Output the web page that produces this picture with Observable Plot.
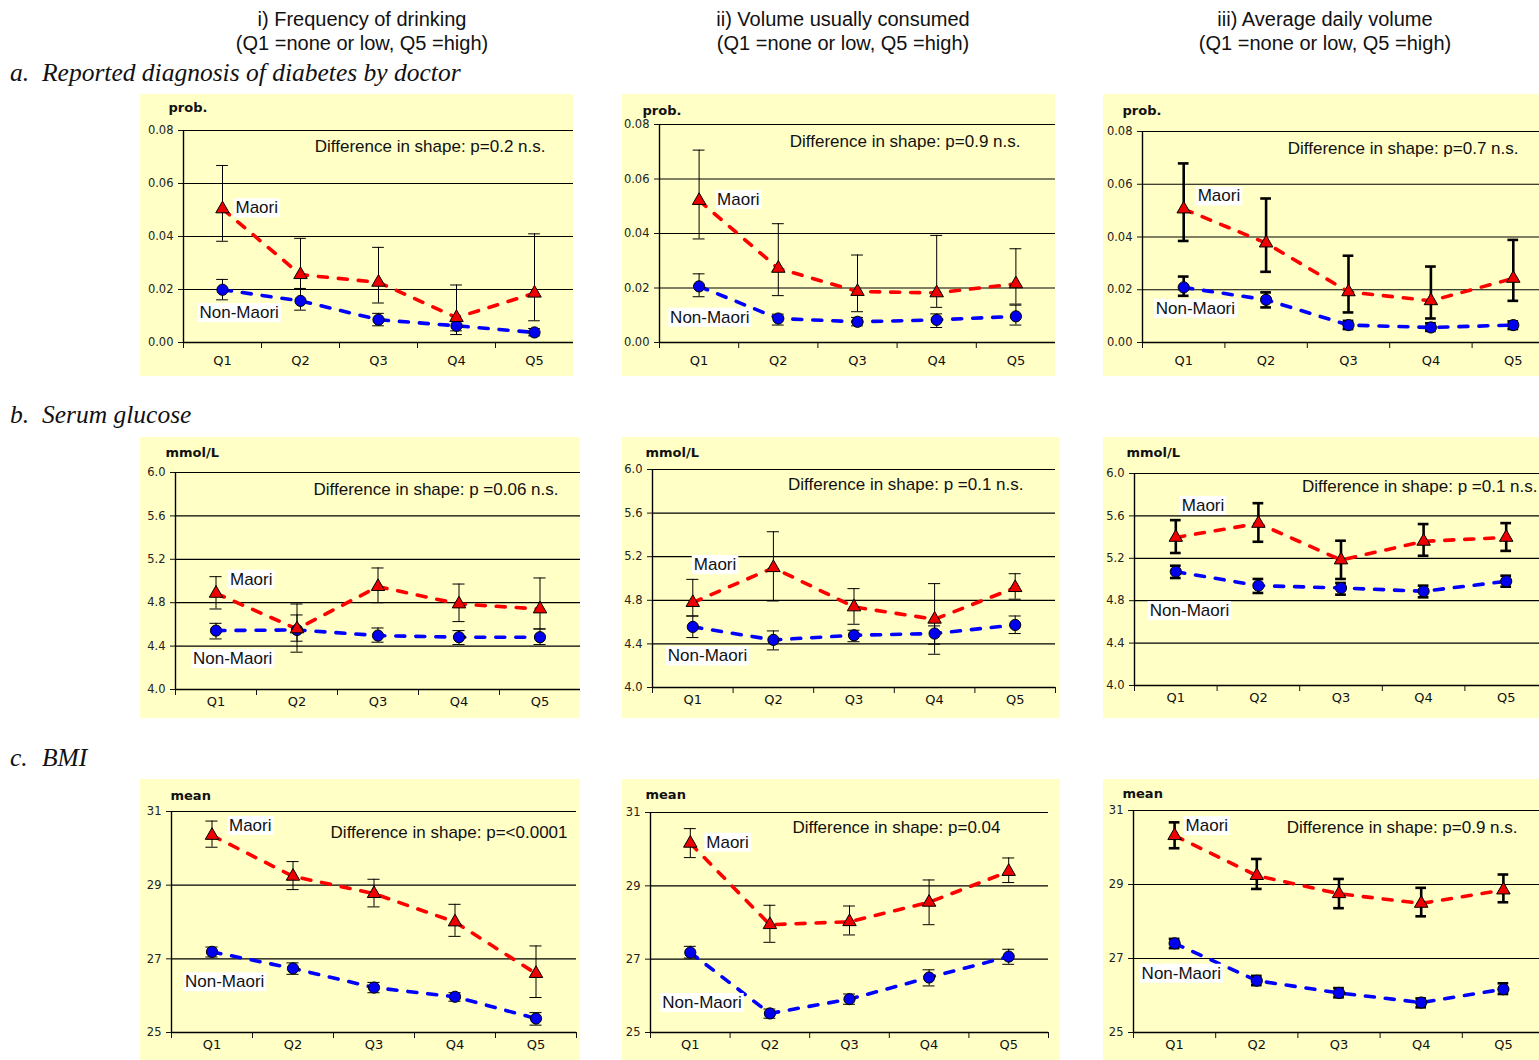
<!DOCTYPE html>
<html><head><meta charset="utf-8">
<script src="https://cdn.jsdelivr.net/npm/d3@7"></script>
<script src="https://cdn.jsdelivr.net/npm/@observablehq/plot@0.6"></script>
<style>
html,body{margin:0;padding:0;background:#fff;overflow:hidden;}
#page{position:relative;width:1539px;height:1060px;overflow:hidden;font-family:"Liberation Sans",Arial,sans-serif;}
.hdr{position:absolute;width:420px;text-align:center;font-size:20px;line-height:20px;color:#111;white-space:nowrap;}
.row{position:absolute;font-family:"Liberation Serif","Times New Roman",serif;font-style:italic;font-size:25.5px;line-height:25px;color:#111;white-space:nowrap;}
.panel{position:absolute;overflow:hidden;background:#ffffc6;}
.panel svg{display:block;max-width:none !important;}
</style></head><body><div id="page"></div>
<script>
// ---------- data ----------
const categories = ["Q1", "Q2", "Q3", "Q4", "Q5"];
const columnTitles = ["i)  Frequency of drinking", "ii)  Volume usually consumed", "iii)  Average daily volume"];
const columnSubtitle = "(Q1 =none or low, Q5 =high)";
const rowLetters = ["a.", "b.", "c."];
const rowTitles = ["Reported diagnosis of diabetes by doctor", "Serum glucose", "BMI"];
const unitLabels = ["prob.", "mmol/L", "mean"];
const groupNames = ["Maori", "Non-Maori"];

const probTicks = [0, 0.02, 0.04, 0.06, 0.08];
const glucoseTicks = [4.0, 4.4, 4.8, 5.2, 5.6, 6.0];
const bmiTicks = [25, 27, 29, 31];

const pValues = [
  "Difference in shape: p=0.2 n.s.", "Difference in shape: p=0.9 n.s.", "Difference in shape: p=0.7 n.s.",
  "Difference in shape: p =0.06 n.s.", "Difference in shape: p =0.1 n.s.", "Difference in shape: p =0.1 n.s.",
  "Difference in shape: p=<0.0001", "Difference in shape: p=0.04", "Difference in shape: p=0.9 n.s."
];

// a) diabetes, i) frequency
const diabFreqMaori     = [0.0504, 0.0256, 0.0227, 0.0094, 0.0186];
const diabFreqMaoriLo   = [0.0382, 0.0204, 0.0149, 0.0030, 0.0082];
const diabFreqMaoriHi   = [0.0668, 0.0393, 0.0359, 0.0217, 0.0410];
const diabFreqNon       = [0.0199, 0.0157, 0.0086, 0.0063, 0.0038];
const diabFreqNonLo     = [0.0161, 0.0122, 0.0063, 0.0044, 0.0025];
const diabFreqNonHi     = [0.0238, 0.0202, 0.0110, 0.0082, 0.0053];
// a) diabetes, ii) volume
const diabVolMaori      = [0.0521, 0.0272, 0.0187, 0.0182, 0.0215];
const diabVolMaoriLo    = [0.0380, 0.0172, 0.0113, 0.0129, 0.0141];
const diabVolMaoriHi    = [0.0706, 0.0436, 0.0321, 0.0393, 0.0344];
const diabVolNon        = [0.0206, 0.0088, 0.0076, 0.0083, 0.0096];
const diabVolNonLo      = [0.0168, 0.0064, 0.0061, 0.0055, 0.0064];
const diabVolNonHi      = [0.0252, 0.0104, 0.0092, 0.0105, 0.0137];
// a) diabetes, iii) average daily volume
const diabAvgMaori      = [0.0506, 0.0377, 0.0192, 0.0158, 0.0243];
const diabAvgMaoriLo    = [0.0385, 0.0268, 0.0114, 0.0091, 0.0158];
const diabAvgMaoriHi    = [0.0679, 0.0546, 0.0329, 0.0288, 0.0389];
const diabAvgNon        = [0.0209, 0.0162, 0.0066, 0.0057, 0.0066];
const diabAvgNonLo      = [0.0177, 0.0133, 0.0051, 0.0044, 0.0051];
const diabAvgNonHi      = [0.0250, 0.0190, 0.0082, 0.0073, 0.0080];

// b) glucose
const glucFreqMaori     = [4.886, 4.558, 4.948, 4.788, 4.742];
const glucFreqMaoriLo   = [4.742, 4.344, 4.800, 4.626, 4.558];
const glucFreqMaoriHi   = [5.040, 4.788, 5.120, 4.972, 5.028];
const glucFreqNon       = [4.543, 4.549, 4.497, 4.482, 4.482];
const glucFreqNonLo     = [4.466, 4.445, 4.436, 4.414, 4.414];
const glucFreqNonHi     = [4.610, 4.687, 4.567, 4.543, 4.558];

const glucVolMaori      = [4.779, 5.099, 4.739, 4.626, 4.916];
const glucVolMaoriLo    = [4.656, 4.794, 4.580, 4.397, 4.810];
const glucVolMaoriHi    = [4.992, 5.429, 4.907, 4.953, 5.044];
const glucVolNon        = [4.556, 4.437, 4.479, 4.495, 4.574];
const glucVolNonLo      = [4.458, 4.345, 4.420, 4.305, 4.495];
const glucVolNonHi      = [4.656, 4.519, 4.525, 4.565, 4.656];

const glucAvgMaori      = [5.397, 5.529, 5.184, 5.360, 5.397];
const glucAvgMaoriLo    = [5.250, 5.356, 5.005, 5.224, 5.270];
const glucAvgMaoriHi    = [5.560, 5.720, 5.366, 5.523, 5.532];
const glucAvgNon        = [5.074, 4.942, 4.920, 4.889, 4.983];
const glucAvgNonLo      = [5.014, 4.873, 4.857, 4.832, 4.932];
const glucAvgNonHi      = [5.130, 5.005, 4.967, 4.942, 5.036];

// c) BMI
const bmiFreqMaori      = [30.35, 29.24, 28.77, 28.00, 26.60];
const bmiFreqMaoriLo    = [30.03, 28.88, 28.41, 27.61, 25.95];
const bmiFreqMaoriHi    = [30.74, 29.64, 29.16, 28.48, 27.35];
const bmiFreqNon        = [27.19, 26.74, 26.22, 25.97, 25.38];
const bmiFreqNonLo      = [27.05, 26.58, 26.08, 25.85, 25.20];
const bmiFreqNonHi      = [27.32, 26.89, 26.36, 26.08, 25.54];

const bmiVolMaori       = [30.16, 27.94, 28.02, 28.55, 29.39];
const bmiVolMaoriLo     = [29.77, 27.46, 27.66, 27.94, 29.09];
const bmiVolMaoriHi     = [30.56, 28.47, 28.45, 29.16, 29.76];
const bmiVolNon         = [27.18, 25.52, 25.91, 26.50, 27.07];
const bmiVolNonLo       = [27.03, 25.39, 25.77, 26.27, 26.86];
const bmiVolNonHi       = [27.35, 25.64, 26.05, 26.71, 27.27];

const bmiAvgMaori       = [30.32, 29.24, 28.75, 28.49, 28.85];
const bmiAvgMaoriLo     = [29.98, 28.88, 28.36, 28.14, 28.52];
const bmiAvgMaoriHi     = [30.68, 29.69, 29.15, 28.91, 29.27];
const bmiAvgNon         = [27.41, 26.40, 26.07, 25.81, 26.17];
const bmiAvgNonLo       = [27.28, 26.28, 25.95, 25.68, 26.04];
const bmiAvgNonHi       = [27.53, 26.53, 26.20, 25.92, 26.33];

// ---------- layout (styles only) ----------
const rowAxis = [
  {ticks: probTicks, fmt: d3.format(".2f"), xPad: 13},
  {ticks: glucoseTicks, fmt: d3.format(".1f"), xPad: 7},
  {ticks: bmiTicks, fmt: d3.format("d"), xPad: 7}
];
const series = [
  [[diabFreqMaori, diabFreqMaoriLo, diabFreqMaoriHi, diabFreqNon, diabFreqNonLo, diabFreqNonHi],
   [diabVolMaori, diabVolMaoriLo, diabVolMaoriHi, diabVolNon, diabVolNonLo, diabVolNonHi],
   [diabAvgMaori, diabAvgMaoriLo, diabAvgMaoriHi, diabAvgNon, diabAvgNonLo, diabAvgNonHi]],
  [[glucFreqMaori, glucFreqMaoriLo, glucFreqMaoriHi, glucFreqNon, glucFreqNonLo, glucFreqNonHi],
   [glucVolMaori, glucVolMaoriLo, glucVolMaoriHi, glucVolNon, glucVolNonLo, glucVolNonHi],
   [glucAvgMaori, glucAvgMaoriLo, glucAvgMaoriHi, glucAvgNon, glucAvgNonLo, glucAvgNonHi]],
  [[bmiFreqMaori, bmiFreqMaoriLo, bmiFreqMaoriHi, bmiFreqNon, bmiFreqNonLo, bmiFreqNonHi],
   [bmiVolMaori, bmiVolMaoriLo, bmiVolMaoriHi, bmiVolNon, bmiVolNonLo, bmiVolNonHi],
   [bmiAvgMaori, bmiAvgMaoriLo, bmiAvgMaoriHi, bmiAvgNon, bmiAvgNonLo, bmiAvgNonHi]]
];
const layout = [
  [{l:140,t:94,w:433,h:282,sw:433,mL:43,mR:0,mT:36,mB:34, u:[-15,-23], p:[-28,16], lm:[13,-1], ln:[-23,23]},
   {l:622,t:94,w:433,h:282,sw:433,mL:37,mR:0,mT:30,mB:34, u:[-17,-14], p:[-35,17], lm:[18,-1], ln:[-29,31]},
   {l:1103,t:94,w:436,h:282,sw:451,mL:39,mR:0,mT:37,mB:34, u:[-20,-21], p:[-36,17], lm:[14,-13], ln:[-28,21]}],
  [{l:140,t:437,w:440,h:281,sw:440,mL:35,mR:0,mT:35,mB:29, u:[-10,-20], p:[-22,17], lm:[14,-14], ln:[-23,28]},
   {l:622,t:437,w:438,h:281,sw:438,mL:30,mR:5,mT:32,mB:31, u:[-7,-17], p:[-32,15], lm:[1,-38], ln:[-25,29]},
   {l:1103,t:437,w:436,h:281,sw:444,mL:31,mR:0,mT:36,mB:33, u:[-8,-21], p:[-10,13], lm:[6,-32], ln:[-26,39]}],
  [{l:140,t:779,w:440,h:281,sw:440,mL:31,mR:4,mT:32,mB:28, u:[-1,-16], p:[-9,21], lm:[17,-10], ln:[-27,30]},
   {l:622,t:779,w:438,h:281,sw:438,mL:28,mR:12,mT:33,mB:28, u:[-5,-18], p:[-48,15], lm:[16,-1], ln:[-28,50]},
   {l:1103,t:779,w:436,h:281,sw:441,mL:30,mR:0,mT:31,mB:28, u:[-11,-17], p:[-27,17], lm:[11,-10], ln:[-33,30]}]
];

const page = document.getElementById("page");
const sans = "Liberation Sans, Arial, sans-serif";
const dejavu = "DejaVu Sans, Verdana, sans-serif";

const colCenters = [362, 843, 1325];
columnTitles.forEach((t, i) => {
  const a = document.createElement("div");
  a.className = "hdr"; a.style.left = (colCenters[i] - 210) + "px"; a.style.top = "9px"; a.textContent = t;
  page.appendChild(a);
  const b = document.createElement("div");
  b.className = "hdr"; b.style.left = (colCenters[i] - 210) + "px"; b.style.top = "33px"; b.textContent = columnSubtitle;
  page.appendChild(b);
});
const rowTops = [60, 402, 745];
rowTitles.forEach((t, i) => {
  const a = document.createElement("div");
  a.className = "row"; a.style.left = "10px"; a.style.top = rowTops[i] + "px"; a.textContent = rowLetters[i];
  page.appendChild(a);
  const b = document.createElement("div");
  b.className = "row"; b.style.left = "42px"; b.style.top = rowTops[i] + "px"; b.textContent = t;
  page.appendChild(b);
});

function makePanel(r, c) {
  const L = layout[r][c];
  const ax = rowAxis[r];
  const [m, mLo, mHi, n, nLo, nHi] = series[r][c];
  const mRows = categories.map((q, i) => ({x: i + 1, y: m[i], lo: mLo[i], hi: mHi[i]}));
  const nRows = categories.map((q, i) => ({x: i + 1, y: n[i], lo: nLo[i], hi: nHi[i]}));
  const xCenters = categories.map((q, i) => i + 1);
  const xEdges = categories.map((q, i) => i + 0.5).concat([categories.length + 0.5]);
  const yMin = ax.ticks[0], yMax = ax.ticks[ax.ticks.length - 1];
  const ew = c === 2 ? 2.6 : 1;
  const cw = c === 2 ? 0.065 : 0.075;
  const bars = rows => [
    Plot.ruleX(rows, {x: "x", y1: "lo", y2: "hi", stroke: "black", strokeWidth: ew}),
    Plot.ruleY(rows, {y: "lo", x1: d => d.x - cw, x2: d => d.x + cw, stroke: "black", strokeWidth: ew}),
    Plot.ruleY(rows, {y: "hi", x1: d => d.x - cw, x2: d => d.x + cw, stroke: "black", strokeWidth: ew})
  ];
  return Plot.plot({
    width: L.sw, height: L.h,
    marginLeft: L.mL, marginRight: L.mR, marginTop: L.mT, marginBottom: L.mB,
    x: {type: "linear", domain: [0.5, categories.length + 0.5]},
    y: {domain: [yMin, yMax]},
    style: {background: "transparent", color: "#111", fontFamily: sans, overflow: "visible", maxWidth: "none"},
    marks: [
      Plot.gridY({ticks: ax.ticks, stroke: "black", strokeOpacity: 1, strokeWidth: 1.2}),
      Plot.ruleY([yMin], {stroke: "black", strokeWidth: 1.4}),
      Plot.ruleX([0.5], {stroke: "black", strokeWidth: 1.4}),
      Plot.axisY({ticks: ax.ticks, tickFormat: ax.fmt, tickSize: 5, tickPadding: 5, fontSize: 11.5, fontFamily: dejavu, label: null, fill: "#222"}),
      Plot.axisX({ticks: xCenters, tickFormat: d => categories[d - 1], tickSize: 0, tickPadding: ax.xPad, fontSize: 13, fontFamily: dejavu, label: null}),
      Plot.axisX({ticks: xEdges, tickFormat: () => "", tickSize: 6, label: null}),
      Plot.line(mRows, {x: "x", y: "y", stroke: "#ff0000", strokeWidth: 3.6, strokeDasharray: "9,11"}),
      Plot.line(nRows, {x: "x", y: "y", stroke: "#0000ff", strokeWidth: 3.6, strokeDasharray: "9,11"}),
      ...bars(mRows),
      ...bars(nRows),
      Plot.dot(nRows, {x: "x", y: "y", symbol: "circle", r: 5.6, fill: "#0000ee", stroke: "black", strokeWidth: 1}),
      Plot.dot(mRows, {x: "x", y: "y", symbol: "triangle", r: 5, fill: "#ee0000", stroke: "black", strokeWidth: 1}),
      Plot.text([unitLabels[r]], {text: d => d, frameAnchor: "top-left", textAnchor: "start", lineAnchor: "middle", dx: L.u[0], dy: L.u[1], fontSize: 13, fontWeight: "bold", fontFamily: dejavu, fill: "#111"}),
      Plot.text([pValues[r * 3 + c]], {text: d => d, frameAnchor: "top-right", textAnchor: "end", lineAnchor: "middle", dx: L.p[0], dy: L.p[1], fontSize: 17, fill: "#111"}),
      Plot.text([mRows[0]], {x: "x", y: "y", text: () => groupNames[0], textAnchor: "start", lineAnchor: "middle", dx: L.lm[0], dy: L.lm[1], fontSize: 17, fill: "#111"}),
      Plot.text([nRows[0]], {x: "x", y: "y", text: () => groupNames[1], textAnchor: "start", lineAnchor: "middle", dx: L.ln[0], dy: L.ln[1], fontSize: 17, fill: "#111"})
    ]
  });
}

for (let r = 0; r < 3; r++) {
  for (let c = 0; c < 3; c++) {
    const L = layout[r][c];
    const div = document.createElement("div");
    div.className = "panel";
    div.style.left = L.l + "px"; div.style.top = L.t + "px";
    div.style.width = L.w + "px"; div.style.height = L.h + "px";
    page.appendChild(div);
    const svg = makePanel(r, c);
    svg.style.maxWidth = "none";
    svg.style.width = L.sw + "px";
    svg.style.height = L.h + "px";
    div.appendChild(svg);
    svg.querySelectorAll("text").forEach(t => {
      if (groupNames.includes(t.textContent)) {
        const bb = t.getBBox();
        const rect = document.createElementNS("http://www.w3.org/2000/svg", "rect");
        rect.setAttribute("x", bb.x - 2);
        rect.setAttribute("y", bb.y);
        rect.setAttribute("width", bb.width + 4);
        rect.setAttribute("height", bb.height);
        rect.setAttribute("fill", "white");
        const tr = t.getAttribute("transform");
        if (tr) rect.setAttribute("transform", tr);
        t.parentNode.insertBefore(rect, t);
      }
    });
  }
}
</script></body></html>
